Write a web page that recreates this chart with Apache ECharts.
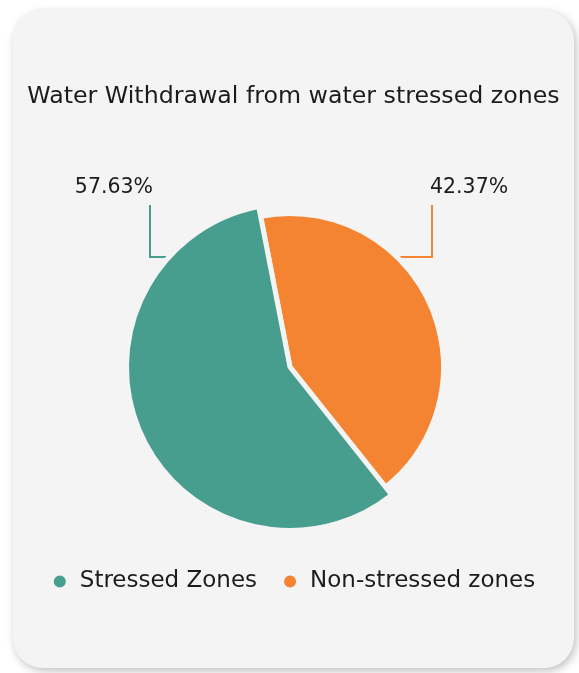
<!DOCTYPE html>
<html>
<head>
<meta charset="utf-8">
<script src="https://cdn.jsdelivr.net/npm/echarts@6/dist/echarts.min.js"></script>
<style>
  html, body { margin: 0; background: #fff; }
  #card {
    position: absolute;
    left: 13px; top: 10px;
    width: 561px; height: 658px;
    background: #f4f4f4;
    border-radius: 30px;
    box-shadow: 2px 3px 8px rgba(0, 0, 0, 0.25);
  }
</style>
</head>
<body>
<div id="card"></div>
<script>
const categories = ['Stressed Zones', 'Non-stressed zones']
const shares = [57.63, 42.37]
const colors = ['#479e8e', '#f48432']

// where the two callouts sit (card pixels)
const labelSpots = [
    { textX: 140, lineX: 137, anchorX: 162, align: 'right' },
    { textX: 417, lineX: 419, anchorX: 386, align: 'left' }
]

const font = 'DejaVu Sans'

var myChart = echarts.init(document.getElementById('card'))
var option = {
    animation: false,
    color: colors,
    title: {
        text: 'Water Withdrawal from water stressed zones',
        left: 'center',
        top: 70,
        textStyle: {
            fontFamily: font,
            fontSize: 23.7,
            fontWeight: 'normal',
            color: '#1c1c1c'
        }
    },
    legend: {
        left: 'center',
        top: 555,
        icon: 'circle',
        itemWidth: 30,
        itemHeight: 14,
        itemGap: 25,
        textStyle: {
            fontFamily: font,
            fontSize: 23,
            color: '#1c1c1c'
        }
    },
    series: [
        {
            type: 'pie',
            center: [277, 357],
            radius: 153.5,
            startAngle: -51.5,
            itemStyle: {
                borderColor: '#f4f4f4',
                borderWidth: 5
            },
            emphasis: {
                scale: true,
                scaleSize: 10,
                itemStyle: {
                    color: colors[0],
                    borderColor: '#f4f4f4',
                    borderWidth: 5
                }
            },
            label: {
                show: true,
                position: 'outside',
                formatter: '{c}%',
                fontFamily: font,
                fontSize: 20.5,
                color: '#1c1c1c'
            },
            labelLine: {
                show: true,
                lineStyle: { width: 2 }
            },
            labelLayout: function (p) {
                const s = labelSpots[p.dataIndex]
                return {
                    x: s.textX,
                    y: 178,
                    align: s.align,
                    verticalAlign: 'middle',
                    labelLinePoints: [[s.anchorX, 247], [s.lineX, 247], [s.lineX, 195]]
                }
            },
            data: categories.map((name, i) => ({ name, value: shares[i] }))
        }
    ]
}
myChart.setOption(option)
myChart.dispatchAction({ type: 'highlight', seriesIndex: 0, dataIndex: 0 })
</script>
</body>
</html>
